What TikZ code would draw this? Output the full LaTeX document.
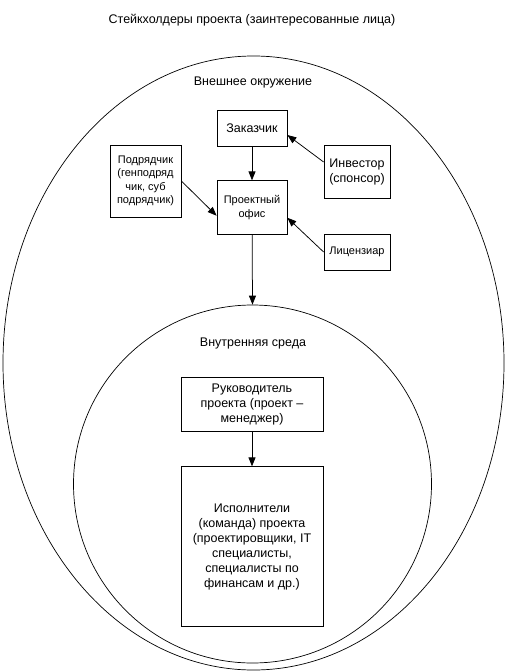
\documentclass[tikz,border=0pt]{standalone}
\usepackage{fontspec}
\setmainfont{Liberation Sans}
\usetikzlibrary{shapes.geometric, arrows.meta, positioning}

\begin{document}
\begin{tikzpicture}[
            x=1pt, y=-1pt,
            node distance=34pt and 37pt,
            box/.style={rectangle, draw=black, line width=0.75pt, fill=white, align=center, inner sep=2pt, font=\fontsize{12.5}{15}\selectfont},
            smallbox/.style={box, font=\fontsize{11}{13.5}\selectfont},
            arrow/.style={-{Triangle[length=9pt, width=7pt]}, line width=0.75pt, draw=black},
            label/.style={font=\fontsize{12.5}{15}\selectfont}
        ]
    \useasboundingbox (0,0) rectangle (505,672);

    % environments
    \node[draw, line width=0.7pt, ellipse, minimum width=501pt, minimum height=614pt, inner sep=0pt] (outer) at (253.5,363) {};
    \node[draw, line width=0.7pt, circle, fill=white, minimum size=358pt, inner sep=0pt] (inner) at (252.5,484) {};

    \node[label] (title) at (252,20) {Стейкхолдеры проекта (заинтересованные лица)};
    \node[label] (outerlbl) at (253,82) {Внешнее окружение};
    \node[label] (innerlbl) at (253,343) {Внутренняя среда};

    % external stakeholders
    \node[box, minimum width=70pt, minimum height=36pt] (zak) at (252,128) {Заказчик};
    \node[smallbox, minimum width=70pt, minimum height=54pt, below=34pt of zak] (ofis) {Проектный\\офис};
    \node[box, minimum width=66pt, minimum height=53pt] (inv) at (357,171.5) {Инвестор\\(спонсор)};
    \node[smallbox, minimum width=66pt, minimum height=36pt] (lic) at (357,252) {Лицензиар};
    \node[smallbox, minimum width=71pt, minimum height=72pt] (podr) at (145.5,181) {Подрядчик\\(генподряд\\чик, суб\\подрядчик)};

    % internal stakeholders
    \node[box, minimum width=142pt, minimum height=54pt] (ruk) at (252,404) {Руководитель\\проекта (проект --\\менеджер)};
    \node[box, minimum width=142pt, minimum height=160pt, below=35pt of ruk] (isp) {Исполнители\\(команда) проекта\\(проектировщики, IT\\специалисты,\\специалисты по\\финансам и др.)};

    \draw[arrow] (zak) -- (ofis);
    \draw[arrow] ([yshift=9.5pt]inv.west) -- ([yshift=-7pt]zak.east);
    \draw[arrow] (lic.west) -- ([yshift=-10pt]ofis.east);
    \draw[arrow] (podr.east) -- ([yshift=-8pt]ofis.west);
    \draw[arrow] (ofis) -- (inner.north);
    \draw[arrow] (ruk) -- (isp);

\end{tikzpicture}
\end{document}
